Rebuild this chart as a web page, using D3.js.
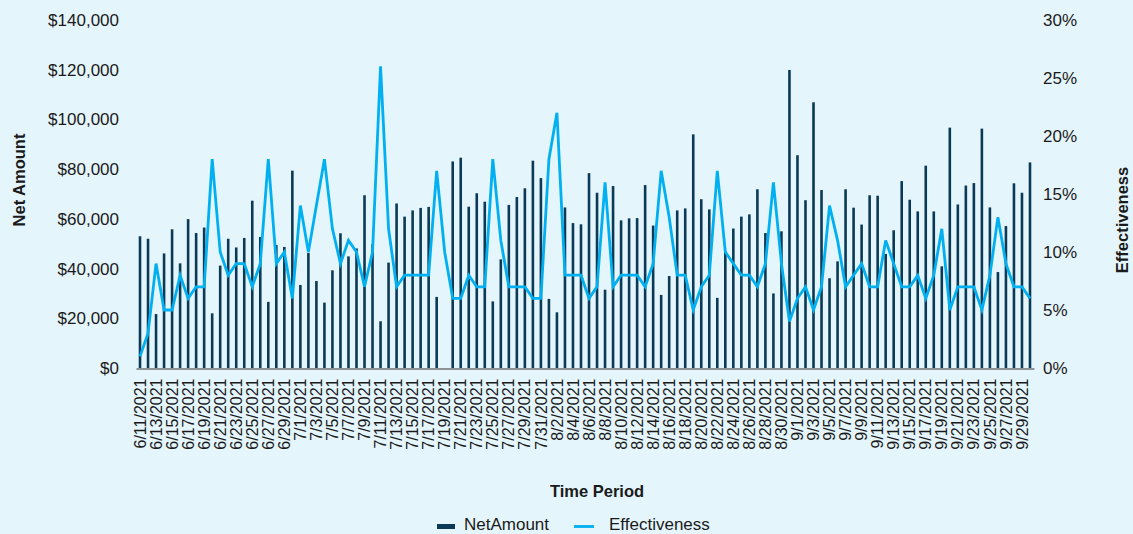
<!DOCTYPE html>
<html>
<head>
<meta charset="utf-8">
<script src="https://cdn.jsdelivr.net/npm/d3@7"></script>
<style>
  html, body { margin: 0; padding: 0; background: #e5f5fc; }
  svg { display: block; font-family: "Liberation Sans", Arial, Helvetica, sans-serif; }
</style>
</head>
<body>
<script>
'use strict';

var width = 1133, height = 534;

// category range: one bar per day
var startDay = "2021-06-11", endDay = "2021-09-30";

// NetAmount in dollars, one per day
var netAmount = [
  53000, 52000, 21700, 46100, 55800, 42100, 59900, 54300, 56500, 22000,
  41200, 52000, 48500, 52300, 67300, 52700, 26600, 49500, 48700, 79400,
  33400, 46300, 35000, 26300, 39300, 54200, 44900, 48100, 69500, 49800,
  18800, 42400, 66200, 60900, 63400, 64400, 64800, 28600, 0, 83100,
  84600, 64900, 70300, 66900, 26800, 43700, 65600, 68800, 72300, 83400,
  76400, 27800, 22400, 64600, 58300, 57800, 78400, 70500, 31500, 73200,
  59400, 60200, 60300, 73600, 57300, 29400, 37000, 63400, 64200, 94000,
  67900, 63800, 28200, 47000, 56100, 60900, 61800, 71900, 54300, 30000,
  55000, 119900, 85600, 67500, 106900, 71600, 36100, 42900, 71900, 64500,
  57700, 69500, 69300, 45900, 55400, 75200, 67700, 63000, 81400, 63000,
  40900, 96700, 65800, 73400, 74400, 96300, 64600, 38600, 57100, 74300,
  70500, 82700
];

// Effectiveness in percent, one per day
var effectiveness = [
  1, 3, 9, 5, 5, 8, 6, 7, 7, 18,
  10, 8, 9, 9, 7, 9, 18, 9, 10, 6,
  14, 10, 14, 18, 12, 9, 11, 10, 7, 10,
  26, 12, 7, 8, 8, 8, 8, 17, 10, 6,
  6, 8, 7, 7, 18, 11, 7, 7, 7, 6,
  6, 18, 22, 8, 8, 8, 6, 7, 16, 7,
  8, 8, 8, 7, 9, 17, 13, 8, 8, 5,
  7, 8, 17, 10, 9, 8, 8, 7, 9, 16,
  9, 4, 6, 7, 5, 7, 14, 11, 7, 8,
  9, 7, 7, 11, 9, 7, 7, 8, 6, 8,
  12, 5, 7, 7, 7, 5, 8, 13, 9, 7,
  7, 6
];

var amountTicks = [0, 20000, 40000, 60000, 80000, 100000, 120000, 140000];
var effTicks = [0, 5, 10, 15, 20, 25, 30];

var seriesNames = ["NetAmount", "Effectiveness"];
var barColor = "#0b3a56", lineColor = "#00b0f0";

var days = d3.timeDay.range(d3.timeParse("%Y-%m-%d")(startDay),
  d3.timeDay.offset(d3.timeParse("%Y-%m-%d")(endDay), 1));
var fmtDay = function(d) { return (d.getMonth() + 1) + "/" + d.getDate() + "/" + d.getFullYear(); };
var dayLabels = days.map(fmtDay);

var rows = dayLabels.map(function(k, i) {
  return { key: k, amount: netAmount[i], eff: effectiveness[i] };
});

var svg = d3.select("body").append("svg")
  .attr("width", width)
  .attr("height", height);

svg.append("rect").attr("width", width).attr("height", height).attr("fill", "#e5f5fc");

var x = d3.scaleBand().domain(dayLabels).range([136, 1034]).padding(0);
var y = d3.scaleLinear().domain([0, 140000]).range([368, 20]);
var y2 = d3.scaleLinear().domain([0, 30]).range([368, 20]);
var bw = x.bandwidth(), barW = 2.6;

// bars
svg.append("g").selectAll("rect")
  .data(rows)
  .enter().append("rect")
  .attr("x", function(d) { return x(d.key) + bw / 2 - barW / 2; })
  .attr("y", function(d) { return y(d.amount); })
  .attr("width", barW)
  .attr("height", function(d) { return y(0) - y(d.amount); })
  .attr("fill", barColor);

// line
var line = d3.line()
  .x(function(d) { return x(d.key) + bw / 2; })
  .y(function(d) { return y2(d.eff); });

svg.append("path")
  .datum(rows)
  .attr("d", line)
  .attr("fill", "none")
  .attr("stroke", lineColor)
  .attr("stroke-width", 2.8)
  .attr("stroke-linejoin", "miter");

// x axis
var xAxis = svg.append("g")
  .attr("transform", "translate(0,368.5)")
  .call(d3.axisBottom(x)
    .tickValues(dayLabels.filter(function(d, i) { return i % 2 === 0; }))
    .tickSize(0));
xAxis.select(".domain").attr("stroke", "#333").attr("stroke-width", 1);
xAxis.selectAll("text")
  .attr("transform", "rotate(-90)")
  .attr("text-anchor", "end")
  .attr("x", -10)
  .attr("y", 0)
  .attr("dy", "0.35em")
  .attr("fill", "#1a1a1a")
  .style("font-size", "16px")
  .style("font-family", "Liberation Sans, Arial, sans-serif");

// left axis
var yAxis = svg.append("g")
  .attr("transform", "translate(127,0)")
  .call(d3.axisLeft(y).tickValues(amountTicks).tickSize(0).tickPadding(8)
    .tickFormat(function(d) { return "$" + d3.format(",")(d); }));
yAxis.select(".domain").remove();
yAxis.selectAll("text")
  .attr("fill", "#1a1a1a")
  .style("font-size", "17px")
  .style("font-family", "Liberation Sans, Arial, sans-serif");

// right axis
var y2Axis = svg.append("g")
  .attr("transform", "translate(1034,0)")
  .call(d3.axisRight(y2).tickValues(effTicks).tickSize(0).tickPadding(9)
    .tickFormat(function(d) { return d + "%"; }));
y2Axis.select(".domain").remove();
y2Axis.selectAll("text")
  .attr("fill", "#1a1a1a")
  .style("font-size", "17px")
  .style("font-family", "Liberation Sans, Arial, sans-serif");

// axis titles
svg.append("text")
  .attr("transform", "translate(25,180) rotate(-90)")
  .attr("text-anchor", "middle")
  .attr("font-weight", "bold")
  .attr("font-size", 16.5)
  .attr("fill", "#1a1a1a")
  .text("Net Amount");

svg.append("text")
  .attr("transform", "translate(1128,220) rotate(-90)")
  .attr("text-anchor", "middle")
  .attr("font-weight", "bold")
  .attr("font-size", 16.5)
  .attr("fill", "#1a1a1a")
  .text("Effectiveness");

svg.append("text")
  .attr("x", 597)
  .attr("y", 497)
  .attr("text-anchor", "middle")
  .attr("font-weight", "bold")
  .attr("font-size", 16.5)
  .attr("fill", "#1a1a1a")
  .text("Time Period");

// legend
var legend = svg.append("g");
legend.append("rect")
  .attr("x", 437).attr("y", 524)
  .attr("width", 18).attr("height", 5)
  .attr("fill", barColor);
legend.append("text")
  .attr("x", 464).attr("y", 529.5)
  .attr("font-size", 17)
  .attr("fill", "#1a1a1a")
  .text(seriesNames[0]);
legend.append("line")
  .attr("x1", 574).attr("x2", 594)
  .attr("y1", 526.5).attr("y2", 526.5)
  .attr("stroke", lineColor)
  .attr("stroke-width", 2.8);
legend.append("text")
  .attr("x", 609).attr("y", 529.5)
  .attr("font-size", 17)
  .attr("fill", "#1a1a1a")
  .text(seriesNames[1]);
</script>
</body>
</html>
